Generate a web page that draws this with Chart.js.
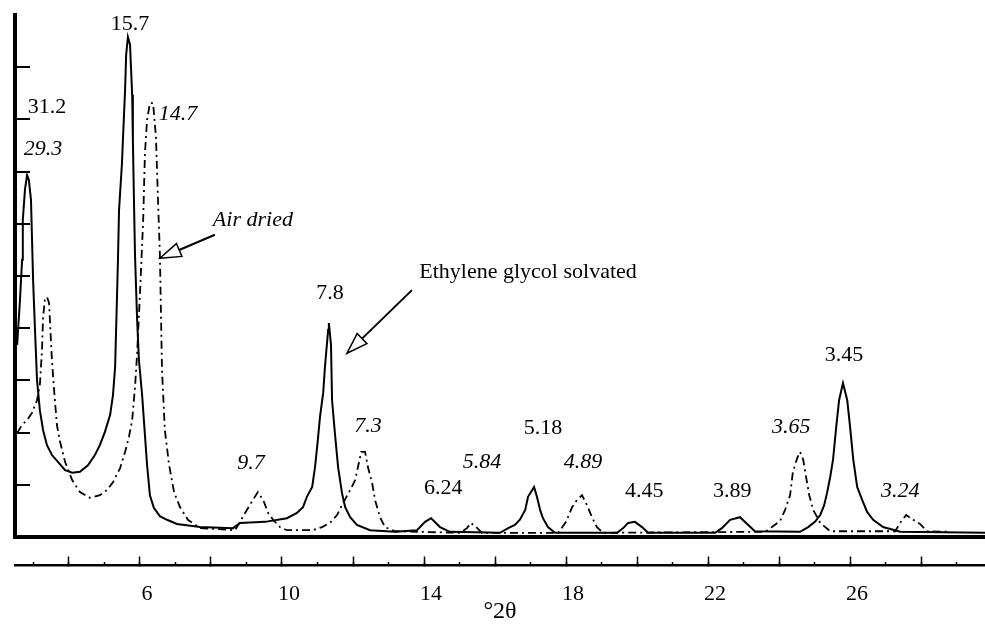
<!DOCTYPE html>
<html lang="en">
<head>
<meta charset="utf-8">
<title>XRD pattern - air dried vs ethylene glycol solvated</title>
<script src="https://cdn.jsdelivr.net/npm/chart.js@4.4.1/dist/chart.umd.min.js"></script>
<style>
  html, body { margin: 0; padding: 0; background: #ffffff; }
  .chart-box { position: relative; width: 985px; height: 624px; }
</style>
</head>
<body>
<div class="chart-box"><canvas id="xrd_chart"></canvas></div>
<script>
// ---- values (x = °2θ, y = intensity in y-tick units) ----

// solid trace: ethylene glycol solvated
const glycol_two_theta = [
  2.54, 2.62, 2.68, 2.70, 2.76, 2.82, 2.87, 2.93, 2.96, 2.99,
  3.04, 3.10, 3.18, 3.27, 3.38, 3.52, 3.69, 3.89, 4.09, 4.31,
  4.54, 4.73, 4.87, 5.01, 5.16, 5.24, 5.30, 5.35, 5.38, 5.41,
  5.49, 5.52, 5.58, 5.61, 5.66, 5.72, 5.78, 5.80, 5.83, 5.86,
  5.92, 5.97, 6.06, 6.14, 6.20, 6.28, 6.39, 6.56, 6.76, 7.04,
  7.69, 8.62, 8.82, 9.52, 10.14, 10.42, 10.59, 10.70, 10.85, 10.93,
  11.01, 11.07, 11.16, 11.21, 11.30, 11.32, 11.38, 11.41, 11.49, 11.58,
  11.69, 11.78, 11.92, 12.11, 12.48, 13.18, 13.80, 14.03, 14.20, 14.45,
  14.73, 16.14, 16.37, 16.56, 16.70, 16.85, 16.93, 17.10, 17.18, 17.27,
  17.35, 17.49, 17.69, 19.44, 19.61, 19.75, 19.94, 20.14, 20.31, 22.20,
  22.39, 22.62, 22.90, 23.13, 23.32, 24.59, 24.82, 25.01, 25.16, 25.27,
  25.35, 25.44, 25.52, 25.61, 25.69, 25.80, 25.92, 26.00, 26.09, 26.20,
  26.34, 26.48, 26.65, 26.93, 27.41, 29.80
];
const glycol_counts = [
  3.68, 4.54, 5.31, 6.07, 6.65, 6.93, 6.84, 6.46, 5.69, 4.92,
  4.02, 3.01, 2.43, 2.05, 1.76, 1.57, 1.44, 1.28, 1.23, 1.25,
  1.38, 1.57, 1.76, 2.01, 2.34, 2.72, 3.26, 4.54, 5.31, 6.26,
  7.13, 7.61, 8.56, 9.23, 9.58, 9.43, 8.47, 7.61, 6.46, 5.40,
  4.16, 3.39, 2.72, 1.95, 1.38, 0.80, 0.56, 0.40, 0.33, 0.25,
  0.19, 0.17, 0.27, 0.29, 0.36, 0.46, 0.57, 0.77, 0.96, 1.34,
  1.86, 2.30, 2.76, 3.26, 3.97, 4.10, 3.68, 2.62, 1.99, 1.34,
  0.84, 0.57, 0.38, 0.23, 0.13, 0.10, 0.13, 0.29, 0.36, 0.19,
  0.10, 0.08, 0.17, 0.23, 0.33, 0.52, 0.77, 0.96, 0.77, 0.52,
  0.36, 0.19, 0.08, 0.08, 0.17, 0.27, 0.29, 0.19, 0.08, 0.08,
  0.17, 0.33, 0.38, 0.23, 0.11, 0.10, 0.19, 0.29, 0.42, 0.61,
  0.84, 1.15, 1.48, 2.11, 2.62, 2.95, 2.62, 2.11, 1.48, 0.96,
  0.71, 0.48, 0.33, 0.19, 0.10, 0.08
];

// dash-dot trace: air dried
const air_two_theta = [
  2.54, 2.68, 2.82, 2.96, 3.10, 3.18, 3.24, 3.27, 3.32, 3.38,
  3.44, 3.47, 3.52, 3.58, 3.66, 3.75, 3.89, 4.09, 4.31, 4.59,
  4.87, 5.07, 5.24, 5.44, 5.58, 5.69, 5.78, 5.86, 5.92, 6.00,
  6.09, 6.14, 6.20, 6.28, 6.37, 6.45, 6.51, 6.56, 6.62, 6.70,
  6.82, 6.96, 7.13, 7.35, 7.69, 8.68, 8.96, 9.18, 9.32, 9.47,
  9.61, 9.75, 9.94, 10.14, 10.87, 11.13, 11.35, 11.55, 11.69, 11.92,
  12.06, 12.14, 12.23, 12.34, 12.42, 12.54, 12.62, 12.76, 12.90, 13.18,
  15.01, 15.21, 15.32, 15.47, 15.63, 17.78, 18.00, 18.17, 18.31, 18.45,
  18.59, 18.73, 18.87, 19.04, 23.61, 23.80, 24.03, 24.17, 24.31, 24.39,
  24.51, 24.59, 24.68, 24.76, 24.85, 24.96, 25.16, 25.44, 27.27, 27.41,
  27.58, 27.78, 27.97, 28.17, 28.76
];
const air_counts = [
  1.99, 2.15, 2.24, 2.38, 2.62, 2.91, 3.58, 4.20, 4.54, 4.60,
  4.48, 4.06, 3.39, 2.82, 2.15, 1.82, 1.44, 1.09, 0.86, 0.75,
  0.80, 0.90, 1.05, 1.32, 1.63, 1.92, 2.24, 2.87, 3.52, 4.67,
  6.07, 7.36, 7.99, 8.31, 8.31, 7.66, 6.40, 5.44, 3.20, 2.05,
  1.38, 0.86, 0.57, 0.33, 0.17, 0.13, 0.46, 0.71, 0.86, 0.71,
  0.46, 0.33, 0.19, 0.13, 0.13, 0.19, 0.27, 0.42, 0.61, 0.90,
  1.09, 1.34, 1.63, 1.63, 1.34, 1.03, 0.71, 0.38, 0.19, 0.11,
  0.08, 0.17, 0.27, 0.19, 0.08, 0.08, 0.29, 0.57, 0.71, 0.80,
  0.61, 0.38, 0.19, 0.08, 0.10, 0.19, 0.31, 0.52, 0.80, 1.25,
  1.51, 1.63, 1.48, 1.15, 0.80, 0.52, 0.27, 0.11, 0.11, 0.27,
  0.42, 0.33, 0.25, 0.11, 0.10
];

// labelled values on the separate tick bar
const x_tick_labels = [6, 10, 14, 18, 22, 26];

// axis range (°2θ / intensity units)
const x_min = 2.48, x_max = 29.8;
const y_min = 0, y_max = 10;
const tick_bar_at = -0.55;   // tick bar sits a little under the baseline

// d-spacing notes (Å); upright = glycol, italic = air dried
const peak_notes = [
  { text: '31.2', at: [3.38, 8.24], italic: false },
  { text: '29.3', at: [3.27, 7.43], italic: true },
  { text: '15.7', at: [5.72, 9.83], italic: false },
  { text: '14.7', at: [7.07, 8.10], italic: true },
  { text: '9.7',  at: [9.13, 1.42], italic: true },
  { text: '7.8',  at: [11.35, 4.67], italic: false },
  { text: '7.3',  at: [12.42, 2.13], italic: true },
  { text: '6.24', at: [14.54, 0.94], italic: false },
  { text: '5.84', at: [15.63, 1.44], italic: true },
  { text: '5.18', at: [17.35, 2.09], italic: false },
  { text: '4.89', at: [18.48, 1.44], italic: true },
  { text: '4.45', at: [20.20, 0.88], italic: false },
  { text: '3.89', at: [22.68, 0.88], italic: false },
  { text: '3.65', at: [24.34, 2.11], italic: true },
  { text: '3.45', at: [25.83, 3.49], italic: false },
  { text: '3.24', at: [27.41, 0.88], italic: true },
  { text: 'Air dried', at: [9.18, 6.07], italic: true },
  { text: 'Ethylene glycol solvated', at: [16.93, 5.08], italic: false }
];

// the two open-headed pointers, tail -> tip
const pointers = [
  { from: [8.11, 5.79], to: [6.56, 5.34] },
  { from: [13.66, 4.73], to: [11.83, 3.52] }
];

const glycol_points = glycol_two_theta.map((t, i) => ({ x: t, y: glycol_counts[i] }));
const air_points = air_two_theta.map((t, i) => ({ x: t, y: air_counts[i] }));

const serif = '"Liberation Serif", "Times New Roman", serif';
Chart.defaults.font.family = serif;
Chart.defaults.color = '#000';

//draws the d-spacing text and the two arrows on top of the traces
const notes_plugin = {
  id: 'notes_plugin',
  afterDatasetsDraw(chart) {
    const ctx = chart.ctx;
    const xs = chart.scales.x, ys = chart.scales.y;
    ctx.save();
    ctx.fillStyle = '#000';
    ctx.textAlign = 'center';
    ctx.textBaseline = 'middle';
    peak_notes.forEach(n => {
      ctx.font = (n.italic ? 'italic ' : '') + '22px ' + serif;
      ctx.fillText(n.text, xs.getPixelForValue(n.at[0]), ys.getPixelForValue(n.at[1]));
    });

    ctx.strokeStyle = '#000';
    pointers.forEach(p => {
      const x0 = xs.getPixelForValue(p.from[0]), y0 = ys.getPixelForValue(p.from[1]);
      const x1 = xs.getPixelForValue(p.to[0]), y1 = ys.getPixelForValue(p.to[1]);
      const ang = Math.atan2(y1 - y0, x1 - x0);
      const head = 21, half = 7;
      const bx = x1 - head * Math.cos(ang), by = y1 - head * Math.sin(ang);
      ctx.lineWidth = 2;
      ctx.beginPath();
      ctx.moveTo(x0, y0);
      ctx.lineTo(bx, by);
      ctx.stroke();
      ctx.lineWidth = 1.5;
      ctx.beginPath();
      ctx.moveTo(x1, y1);
      ctx.lineTo(bx + half * Math.sin(ang), by - half * Math.cos(ang));
      ctx.lineTo(bx - half * Math.sin(ang), by + half * Math.cos(ang));
      ctx.closePath();
      ctx.fillStyle = '#fff';
      ctx.fill();
      ctx.stroke();
    });
    ctx.restore();
  }
};

const ctx = document.getElementById('xrd_chart').getContext('2d');

new Chart(ctx, {
  type: 'line',
  data: {
    datasets: [{
      label: 'Ethylene glycol solvated',
      data: glycol_points,
      borderColor: '#000',
      borderWidth: 2,
      pointRadius: 0,
      fill: false,
      tension: 0
    }, {
      label: 'Air dried',
      data: air_points,
      borderColor: '#000',
      borderWidth: 1.8,
      borderDash: [8, 4, 2, 4],
      pointRadius: 0,
      fill: false,
      tension: 0
    }]
  },
  options: {
    responsive: true,
    maintainAspectRatio: false,
    animation: false,
    events: [],
    layout: { padding: { left: 15, right: 0, top: 15, bottom: 0 } },
    plugins: {
      legend: { display: false },
      tooltip: { enabled: false },
      title: {
        display: true,
        position: 'bottom',
        text: '°2θ',
        color: '#000',
        font: { family: serif, size: 24, weight: 'normal', lineHeight: 1 },
        padding: { top: 63, bottom: 0 }
      }
    },
    scales: {
      x: {
        type: 'linear',
        min: x_min,
        max: x_max,
        position: { y: tick_bar_at },
        border: { display: true, color: '#000', width: 2.5 },
        grid: {
          drawOnChartArea: false,
          drawTicks: true,
          tickLength: -10,
          tickColor: '#000',
          tickWidth: 1.5
        },
        ticks: {
          stepSize: 2,
          includeBounds: false,
          autoSkip: false,
          maxRotation: 0,
          padding: 25,
          labelOffset: 7,
          color: '#000',
          font: { family: serif, size: 22 },
          callback: v => x_tick_labels.includes(v) ? String(v) : ''
        }
      },
      // one-unit minor ticks on the same bar
      xm: {
        axis: 'x',
        type: 'linear',
        min: x_min,
        max: x_max,
        position: { y: tick_bar_at },
        border: { display: false },
        grid: {
          drawOnChartArea: false,
          drawTicks: true,
          tickLength: -4,
          tickColor: '#000',
          tickWidth: 1.5
        },
        ticks: { display: false, stepSize: 1, includeBounds: false }
      },
      y: {
        type: 'linear',
        min: y_min,
        max: y_max,
        position: { x: x_min },
        border: { display: true, color: '#000', width: 4 },
        grid: {
          drawOnChartArea: true,
          color: c => (c.tick && c.tick.value === 0) ? '#000' : 'rgba(0,0,0,0)',
          lineWidth: c => (c.tick && c.tick.value === 0) ? 4 : 0,
          drawTicks: true,
          tickLength: -17,
          tickWidth: 2,
          tickColor: c => (c.tick && c.tick.value > 0 && c.tick.value < 10) ? '#000' : 'rgba(0,0,0,0)'
        },
        ticks: { display: false, stepSize: 1, includeBounds: false }
      }
    }
  },
  plugins: [notes_plugin]
});
</script>
</body>
</html>
